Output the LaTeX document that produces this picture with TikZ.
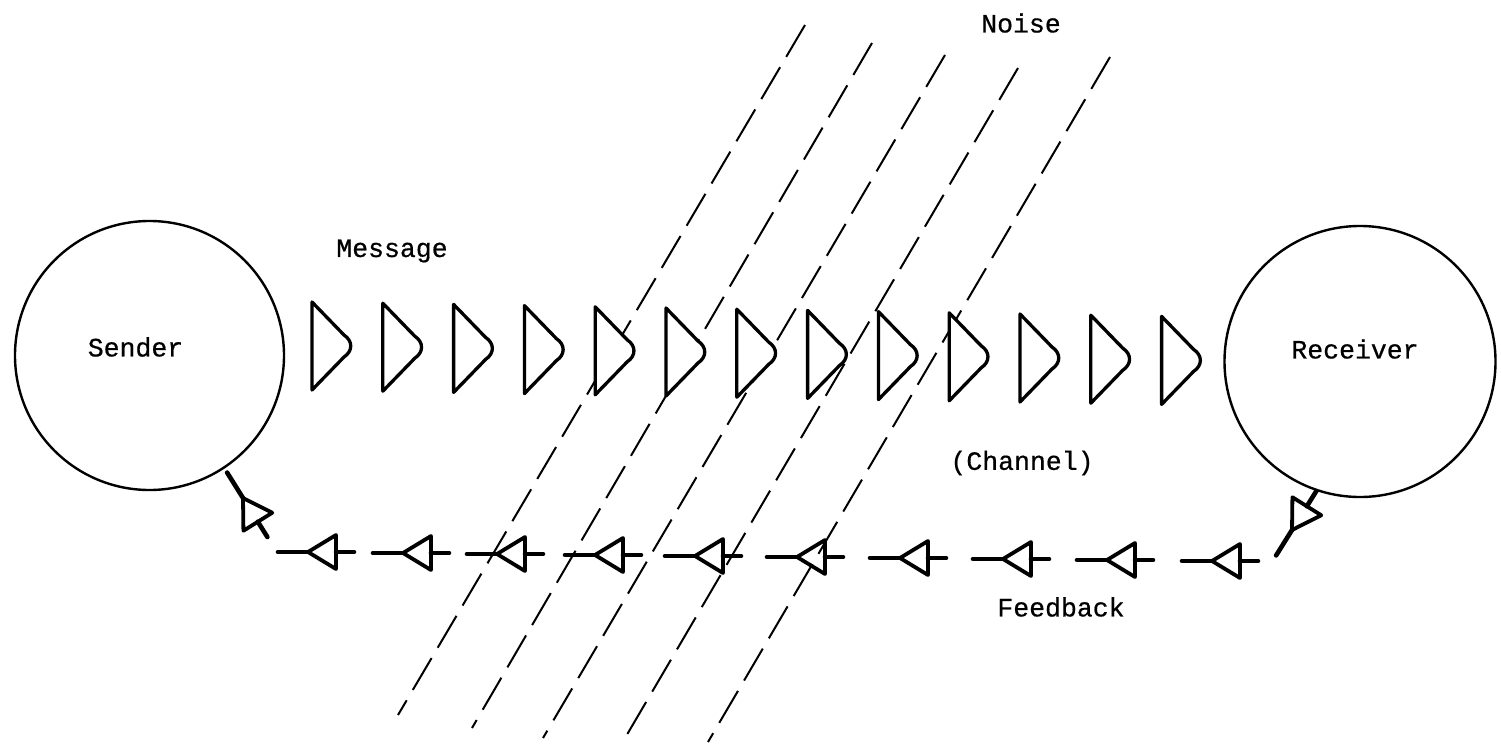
\documentclass[tikz,border=0pt]{standalone}
\usepackage{fontspec}
\newfontfamily\typewriter[FakeBold=0.6]{Liberation Mono}
\begin{document}
\begin{tikzpicture}[x=1pt,y=-1pt,
  txt/.style={font=\typewriter\fontsize{26.5}{28}\selectfont, inner sep=0pt},
  party/.style={circle, draw, line width=2.4pt, inner sep=0pt},
  noise/.style={line width=2pt, dash pattern=on 37pt off 12pt},
  pulse/.style={draw, fill=white, line width=3.3pt, line join=round},
  fbline/.style={line width=4.6pt, line cap=round},
  fbhead/.style={line width=3.8pt, line join=round},
  fbunit/.pic={
    \draw[fbline] (0,0) -- (30,0);
    \draw[fbhead] (0,0) -- (-28,-17) -- (-28,17) -- cycle;
    \draw[fbline] (-28,0) -- (-46,0);
  }]
\useasboundingbox (0,0) rectangle (1501,752);

% noise: five parallel dashed lines
\foreach \k/\ax/\ay/\bx/\by in {1/805/25/398/715, 2/872/43/472/728,
    3/945/55/543/738, 4/1018/68/625/738, 5/1110/57/708/742} {
  \coordinate (n\k top) at (\ax,\ay);
  \coordinate (n\k bot) at (\bx,\by);
  \draw[noise] (n\k top) -- (n\k bot);
}

% sender and receiver
\node[party, minimum size=269pt] (sender) at (149.5,355.5) {};
\node[party, minimum size=271pt] (receiver) at (1360,361.5) {};
\node[txt] (sendertext) at (135.5,347) {Sender};
\node[txt] (receivertext) at (1355,349) {Receiver};

% message pulses along the channel
\foreach \i in {0,...,12} {
  \pgfmathsetmacro\px{312+70.8*\i}
  \pgfmathsetmacro\py{346+1.2*\i}
  \begin{scope}[shift={(\px,\py)}]
    \draw[pulse] (0,-44) -- (32,-11) .. controls (41,-5) and (41,5) .. (32,11)
      -- (0,44) -- cycle;
  \end{scope}
}

% feedback returning to the sender
\pic[rotate=238] at (1292,530) {fbunit};
\foreach \fx [count=\j from 0] in {308,403,497,595,695,797,900,1003,1107,1212} {
  \pic[rotate=180] at (\fx,552+\j) {fbunit};
}
\pic[rotate=122] at (243,498) {fbunit};

% labels
\node[txt] (noisetext) at (1021,23) {Noise};
\node[txt] (messagetext) at (392,251) {Message};
\node[txt] (channeltext) at (1022,463) {(Channel)};
\node[txt] (feedbacktext) at (1061,607) {Feedback};
\end{tikzpicture}
\end{document}
